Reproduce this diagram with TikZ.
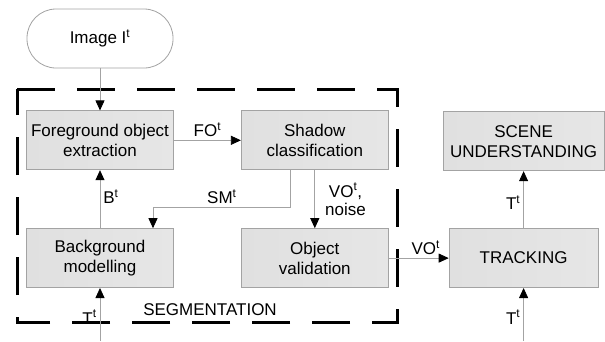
\documentclass[tikz,border=0pt]{standalone}
\usepackage{fontspec}
\setmainfont{Liberation Sans}
\usetikzlibrary{arrows.meta, positioning}
\definecolor{cLine}{HTML}{A3A3A3}
\definecolor{cBoxL}{HTML}{E0E0E0}
\definecolor{cBoxM}{HTML}{F4F4F4}
\definecolor{cBoxR}{HTML}{E6E6E6}

\begin{document}
\begin{tikzpicture}[x=1pt, y=-1pt,
      block/.style = {draw=cLine, line width=0.8pt, left color=cBoxL, middle color=cBoxM, right color=cBoxR, minimum width=147pt, minimum height=59pt, align=center, font=\fontsize{17}{20}\selectfont},
      term/.style  = {draw=cLine, line width=0.8pt, fill=white, rounded corners=29pt, minimum width=146pt, minimum height=59pt, font=\fontsize{17}{20}\selectfont},
      lbl/.style   = {font=\fontsize{17}{20}\selectfont, inner sep=3pt, align=center},
      ar/.style    = {-{Triangle[length=10pt, width=9pt, black]}, draw=cLine, line width=0.8pt} ]
    \useasboundingbox (0,0) rectangle (605,341);

    \node[term] (img) at (100,38.5) {Image I\textsuperscript{t}};
    \node[block, below=42pt of img]  (fg) {Foreground object\\extraction};
    \node[block, right=67pt of fg]   (sh) {Shadow\\classification};
    \node[block, below=58pt of fg]   (bg) {Background\\modelling};
    \node[block, right=67pt of bg]   (ov) {Object\\validation};
    \node[block, right=60pt of ov, minimum width=149pt] (tr) {TRACKING};
    \node[block, above=57pt of tr, minimum width=161pt] (sc) {SCENE\\UNDERSTANDING};

    % segmentation frame
    \draw[line width=3pt, dash pattern=on 38pt off 22pt] (17,89) -- (397,89) -- (397,322) -- (17,322) -- cycle;
    \node[lbl] (seg) at (210,310) {SEGMENTATION};

    % inputs from below
    \coordinate (tin1) at (bg.south |- 0,341);
    \coordinate (tin2) at (tr.south |- 0,341);

    \draw[ar] (img) -- (fg);
    \draw[ar] (fg) -- node[lbl, above] (lfo) {FO\textsuperscript{t}} (sh);
    \draw[ar] ([xshift=-24pt]sh.south) -- ++(0,37) -| node[lbl, above, pos=0.25] (lsm) {SM\textsuperscript{t}} ([xshift=53pt]bg.north);
    \draw[ar] (sh) -- node[lbl, right=7pt] (lvo) {VO\textsuperscript{t},\\[-2pt]noise} (ov);
    \draw[ar] (bg) -- node[lbl, right, pos=0.55] (lb) {B\textsuperscript{t}} (fg);
    \draw[ar] (tin1) -- node[lbl, left, pos=0.45] (lt1) {T\textsuperscript{t}} (bg);
    \draw[ar] (ov) -- node[lbl, above, xshift=7pt] (lvo2) {VO\textsuperscript{t}} (tr);
    \draw[ar] (tr) -- node[lbl, left, pos=0.45] (lt2) {T\textsuperscript{t}} (sc);
    \draw[ar] (tin2) -- node[lbl, left, pos=0.45] (lt3) {T\textsuperscript{t}} (tr);
  \end{tikzpicture}
\end{document}
